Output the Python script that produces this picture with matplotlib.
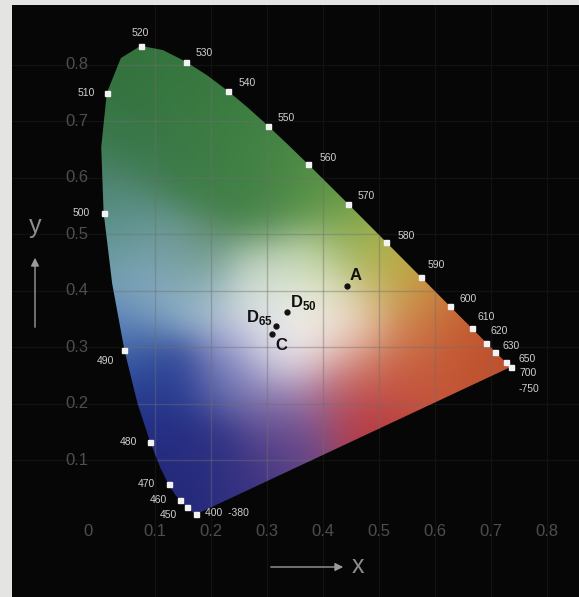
"""
CIE 1931 xy chromaticity diagram on a black panel
"""

import numpy as np
import matplotlib
matplotlib.use('Agg')
import matplotlib.pyplot as plt
from matplotlib.patches import Polygon

# Spectral locus (CIE 1931 2 deg), 380-700 nm in 5 nm steps
locus_nm = [380, 385, 390, 395, 400, 405, 410, 415, 420, 425, 430, 435, 440, 445,
            450, 455, 460, 465, 470, 475, 480, 485, 490, 495, 500, 505, 510, 515,
            520, 525, 530, 535, 540, 545, 550, 555, 560, 565, 570, 575, 580, 585,
            590, 595, 600, 605, 610, 615, 620, 625, 630, 635, 640, 645, 650, 655,
            660, 665, 670, 675, 680, 700]
locus_x = [0.1741, 0.1740, 0.1738, 0.1736, 0.1733, 0.1730, 0.1726, 0.1721, 0.1714,
           0.1703, 0.1689, 0.1669, 0.1644, 0.1611, 0.1566, 0.1510, 0.1440, 0.1355,
           0.1241, 0.1096, 0.0913, 0.0687, 0.0454, 0.0235, 0.0082, 0.0039, 0.0139,
           0.0389, 0.0743, 0.1142, 0.1547, 0.1929, 0.2296, 0.2658, 0.3016, 0.3373,
           0.3731, 0.4087, 0.4441, 0.4788, 0.5125, 0.5448, 0.5752, 0.6029, 0.6270,
           0.6482, 0.6658, 0.6801, 0.6915, 0.7006, 0.7079, 0.7140, 0.7190, 0.7230,
           0.7260, 0.7283, 0.7300, 0.7311, 0.7320, 0.7327, 0.7334, 0.7347]
locus_y = [0.0050, 0.0050, 0.0049, 0.0049, 0.0048, 0.0048, 0.0048, 0.0048, 0.0051,
           0.0058, 0.0069, 0.0086, 0.0109, 0.0138, 0.0177, 0.0227, 0.0297, 0.0399,
           0.0578, 0.0868, 0.1327, 0.2007, 0.2950, 0.4127, 0.5384, 0.6548, 0.7502,
           0.8120, 0.8338, 0.8262, 0.8059, 0.7816, 0.7543, 0.7243, 0.6923, 0.6589,
           0.6245, 0.5896, 0.5547, 0.5202, 0.4866, 0.4544, 0.4242, 0.3965, 0.3725,
           0.3514, 0.3340, 0.3197, 0.3083, 0.2993, 0.2920, 0.2859, 0.2809, 0.2770,
           0.2740, 0.2717, 0.2700, 0.2689, 0.2680, 0.2673, 0.2666, 0.2653]

# Marked wavelengths and their labels
marked_nm = [400, 450, 460, 470, 480, 490, 500, 510, 520, 530, 540, 550, 560,
             570, 580, 590, 600, 610, 620, 630, 650, 700]
marked_labels = ['400  -380', '450', '460', '470', '480', '490', '500', '510', '520',
                 '530', '540', '550', '560', '570', '580', '590', '600', '610',
                 '620', '630', '650', '700']

# Painted colour field: anchor points and colours
anchor_x = [0.07, 0.15, 0.22, 0.30, 0.38, 0.05, 0.12, 0.22, 0.30, 0.44,
            0.015, 0.02, 0.06, 0.06, 0.12, 0.18,
            0.10, 0.18, 0.04,
            0.07, 0.12, 0.10, 0.16, 0.20, 0.26, 0.22, 0.26, 0.30, 0.32,
            0.30, 0.34, 0.38, 0.42, 0.35, 0.28, 0.34, 0.40,
            0.48, 0.52, 0.56, 0.47, 0.55, 0.62, 0.68, 0.60, 0.52, 0.45,
            0.44, 0.47, 0.38, 0.36]
anchor_y = [0.80, 0.76, 0.70, 0.64, 0.58, 0.68, 0.62, 0.58, 0.53, 0.52,
            0.58, 0.50, 0.52, 0.44, 0.46, 0.47,
            0.38, 0.40, 0.34,
            0.28, 0.24, 0.15, 0.07, 0.12, 0.08, 0.25, 0.30, 0.20, 0.12,
            0.36, 0.32, 0.38, 0.33, 0.27, 0.42, 0.44, 0.44,
            0.46, 0.44, 0.40, 0.37, 0.33, 0.35, 0.30, 0.28, 0.24, 0.27,
            0.20, 0.15, 0.20, 0.14]
anchor_rgb = [(52, 115, 62), (56, 120, 64), (60, 125, 66), (68, 132, 68), (85, 145, 70),
              (55, 118, 70), (60, 122, 72), (62, 126, 70), (70, 130, 70), (115, 160, 70),
              (75, 130, 110), (95, 150, 150), (95, 145, 135), (125, 165, 185),
              (120, 160, 170), (95, 140, 110),
              (140, 175, 200), (160, 190, 210), (90, 130, 185),
              (45, 75, 155), (40, 60, 145), (35, 45, 130), (35, 40, 120), (45, 50, 135),
              (55, 50, 130), (90, 100, 170), (175, 175, 215), (120, 110, 170), (85, 60, 130),
              (230, 235, 235), (245, 245, 245), (245, 245, 235), (240, 230, 220),
              (230, 220, 230), (200, 215, 205), (205, 220, 190), (190, 210, 160),
              (165, 180, 80), (185, 175, 65), (200, 150, 60), (235, 210, 185),
              (210, 130, 85), (200, 105, 55), (190, 80, 45), (195, 85, 55),
              (195, 80, 60), (215, 140, 120),
              (188, 62, 68), (182, 55, 65), (150, 112, 170), (100, 70, 140)]

# White points
wp_names = ['A', 'D50', 'D65', 'C']
wp_x = [0.443, 0.336, 0.316, 0.309]
wp_y = [0.409, 0.363, 0.338, 0.324]

ticks = [0.1, 0.2, 0.3, 0.4, 0.5, 0.6, 0.7, 0.8]
tick_labels = ['0.1', '0.2', '0.3', '0.4', '0.5', '0.6', '0.7', '0.8']

XMIN, XMAX = -0.1554, 0.857
YMIN, YMAX = -0.1416, 0.906

plt.rcParams['font.family'] = ['Liberation Sans', 'DejaVu Sans']
plt.rcParams['mathtext.fontset'] = 'custom'
plt.rcParams['mathtext.bf'] = 'Liberation Sans:bold'


def colour_field(nx=420, ny=440, sigma=0.05):
    gx = np.linspace(XMIN, XMAX, nx)
    gy = np.linspace(YMIN, YMAX, ny)
    X, Y = np.meshgrid(gx, gy)
    cols = np.array(anchor_rgb, dtype=float) / 255.0
    num = np.zeros(X.shape + (3,))
    den = np.zeros(X.shape)
    for ax_, ay_, c in zip(anchor_x, anchor_y, cols):
        w = np.exp(-((X - ax_) ** 2 + (Y - ay_) ** 2) / (2 * sigma ** 2)) + 1e-12
        num += w[..., None] * c
        den += w
    return np.clip(num / den[..., None], 0, 1)


fig = plt.figure(figsize=(5.79, 5.97), dpi=100, facecolor='#e4e4e2')
ax = fig.add_axes([12 / 579, 0, 567 / 579, 592 / 597])
ax.set_facecolor('#060606')
ax.set_xlim(XMIN, XMAX)
ax.set_ylim(YMIN, YMAX)
ax.set_xticks([])
ax.set_yticks([])
for s in ax.spines.values():
    s.set_visible(False)

# very faint grid over the black area
for v in ticks:
    ax.axvline(v, color='#121212', lw=0.9, zorder=0.5)
    ax.axhline(v, color='#121212', lw=0.9, zorder=0.5)

# colour field clipped to the spectral locus
poly = Polygon(np.column_stack([locus_x, locus_y]), closed=True,
               transform=ax.transData, facecolor='none', edgecolor='none')
ax.add_patch(poly)
im = ax.imshow(colour_field(), extent=(XMIN, XMAX, YMIN, YMAX), origin='lower',
               interpolation='bilinear', zorder=1, aspect='auto')
im.set_clip_path(poly)

# grid inside the colour field
for v in ticks:
    l1 = ax.axvline(v, color='#6f6f6f', alpha=0.42, lw=1.0, zorder=2)
    l2 = ax.axhline(v, color='#6f6f6f', alpha=0.42, lw=1.0, zorder=2)
    l1.set_clip_path(poly)
    l2.set_clip_path(poly)

# tick labels
tick_kw = dict(color='#4e4e4e', fontsize=12)
ax.text(-0.02, -0.025, '0', ha='center', va='center', **tick_kw)
for v, t in zip(ticks, tick_labels):
    ax.text(v, -0.025, t, ha='center', va='center', **tick_kw)
    ax.text(-0.039, v, t, ha='center', va='center', **tick_kw)

# wavelength markers (label offsets in pixels)
offsets = {400: (9, 1), 450: (-18, -8), 460: (-21, 0), 470: (-22, 0), 480: (-22, 0),
           490: (-19, -11), 500: (-22, 0), 510: (-21, 0), 520: (0, 13), 530: (19, 9),
           540: (20, 8), 550: (18, 8), 560: (20, 6), 570: (18, 8), 580: (20, 6),
           590: (15, 12), 600: (18, 7), 610: (14, 11), 620: (13, 12), 630: (16, 6),
           650: (21, 3), 700: (18, -6)}
for nm, lab in zip(marked_nm, marked_labels):
    i = locus_nm.index(nm)
    px, py = locus_x[i], locus_y[i]
    ax.plot(px, py, 's', color='#f2f2f2', ms=3.6, mec='#f2f2f2', zorder=5)
    ha = 'left' if nm == 400 else 'center'
    ax.annotate(lab, (px, py), xytext=offsets[nm], textcoords='offset pixels',
                ha=ha, va='center', color='#cfcfcf', fontsize=7.5, zorder=6)
i700 = locus_nm.index(700)
ax.annotate('-750', (locus_x[i700], locus_y[i700]), xytext=(18, -22),
            textcoords='offset pixels', ha='center', va='center',
            color='#cfcfcf', fontsize=7.5, zorder=6)

# white points
wp_text = {'A': ('A', (8, 10), 'center'),
           'D50': (r'$\mathbf{D}_{\mathbf{50}}$', (3, 9), 'left'),
           'D65': (r'$\mathbf{D}_{\mathbf{65}}$', (-3, 8), 'right'),
           'C': ('C', (9, -12), 'center')}
for name, wx, wy in zip(wp_names, wp_x, wp_y):
    ax.plot(wx, wy, 'o', color='#111111', ms=3.5, zorder=5)
    lab, off, ha = wp_text[name]
    ax.annotate(lab, (wx, wy), xytext=off, textcoords='offset pixels', ha=ha,
                va='center', color='#111111', fontsize=12, fontweight='bold', zorder=6)

# axis names with arrows
fig.text(35 / 579, 1 - 226 / 597, 'y', ha='center', va='center', color='#8e8e8e',
         fontsize=18)
ax.annotate('', xy=(35, 597 - 255), xytext=(35, 597 - 330), xycoords='figure pixels',
            textcoords='figure pixels',
            arrowprops=dict(arrowstyle='-|>', color='#9a9a9a', lw=1.0,
                            mutation_scale=12))
fig.text(358 / 579, 1 - 566 / 597, 'x', ha='center', va='center', color='#8e8e8e',
         fontsize=18)
ax.annotate('', xy=(346, 597 - 567), xytext=(268, 597 - 567), xycoords='figure pixels',
            textcoords='figure pixels',
            arrowprops=dict(arrowstyle='-|>', color='#9a9a9a', lw=1.0,
                            mutation_scale=12))

fig.savefig('out.png', dpi=100, facecolor=fig.get_facecolor())
